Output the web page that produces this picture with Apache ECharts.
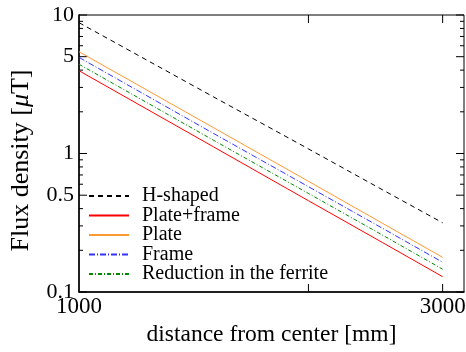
<!DOCTYPE html>
<html><head><meta charset="utf-8">
<script src="https://cdn.jsdelivr.net/npm/echarts@6/dist/echarts.min.js"></script>
<style>html,body{margin:0;padding:0;background:#fff}#c{width:466px;height:352px}</style>
</head><body><div id="c"></div>
<script>
const distances = [1000, 1500, 2000, 2500, 3000];
const hShaped = [8.8, 2.57, 1.08, 0.548, 0.316];
const plateFrame = [3.96, 1.12, 0.456, 0.228, 0.129];
const plate = [5.43, 1.54, 0.63, 0.314, 0.178];
const frame = [4.94, 1.40, 0.576, 0.289, 0.164];
const ferrite = [4.41, 1.25, 0.515, 0.258, 0.146];
const seriesNames = ['H-shaped', 'Plate+frame', 'Plate', 'Frame', 'Reduction in the ferrite'];
const yMajorTicks = [0.1, 0.5, 1, 5, 10];
const yMinorTicks = [0.2, 0.3, 0.4, 0.6, 0.7, 0.8, 0.9, 2, 3, 4, 6, 7, 8, 9];
const xTickLabels = [1000, 3000];
const xTicks = [2000, 3000];

const FONT = 'Liberation Serif';
const chart = echarts.init(document.getElementById('c'), null, {renderer: 'canvas'});
function pairs(v) { return distances.map((d, i) => [d, v[i]]); }
const styles = [
  {color: '#000000', type: [5, 4]},
  {color: '#ff0000', type: 'solid'},
  {color: '#ff9933', type: 'solid'},
  {color: '#3333ff', type: [6, 2, 1, 2]},
  {color: '#008800', type: [4, 2, 1, 2]}
];
const allData = [hShaped, plateFrame, plate, frame, ferrite];
const grid = {left: 76, right: 2, top: 15, bottom: 60, show: true, borderColor: '#000', borderWidth: 1};
chart.setOption({
  animation: false,
  grid: grid,
  xAxis: {
    type: 'log', logBase: 10, min: 1000, max: 3200,
    axisLine: {show: true, lineStyle: {color: '#000', width: 1.5}},
    axisTick: {show: false}, axisLabel: {show: false}, splitLine: {show: false},
    name: 'distance from center [mm]', nameLocation: 'middle', nameGap: 31,
    nameTextStyle: {fontFamily: FONT, fontSize: 23.5, color: '#000'}
  },
  yAxis: {
    type: 'log', logBase: 10, min: 0.1, max: 10,
    axisLine: {show: true, lineStyle: {color: '#000', width: 1.5}},
    axisTick: {show: false}, axisLabel: {show: false}, splitLine: {show: false},
    name: '{n|Flux density [}{i|μ}{n|T]}', nameLocation: 'middle', nameGap: 45,
    nameTextStyle: {padding: [0, 14, 0, 0], rich: {
      n: {fontFamily: FONT, fontSize: 26, color: '#000'},
      i: {fontFamily: FONT, fontSize: 26, color: '#000', fontStyle: 'italic'}
    }}
  },
  legend: {
    orient: 'vertical', left: 83, top: 181,
    itemWidth: 40, itemHeight: 17, itemGap: -0.5,
    data: seriesNames,
    itemStyle: {opacity: 0},
    textStyle: {fontFamily: FONT, fontSize: 20, color: '#000', lineHeight: 17, padding: [0, 0, 0, 8]}
  },
  series: seriesNames.map((n, i) => ({
    name: n, type: 'line', data: pairs(allData[i]), symbol: 'none', showSymbol: false,
    lineStyle: {color: styles[i].color, width: 1, type: styles[i].type},
    itemStyle: {color: styles[i].color}
  }))
});

function drawExtras() {
  const g = [];
  const px = v => chart.convertToPixel({xAxisIndex: 0}, v);
  const py = v => chart.convertToPixel({yAxisIndex: 0}, v);
  const x0 = px(1000), x1 = px(3200), y0 = py(0.1), y1 = py(10);
  const addLine = (a, b, c, d) => g.push({type: 'line', shape: {x1: a, y1: b, x2: c, y2: d}, style: {stroke: '#000', lineWidth: 1}, silent: true});
  yMajorTicks.forEach(v => { const y = py(v); addLine(x0, y, x0 + 8, y); addLine(x1, y, x1 - 8, y); });
  yMinorTicks.forEach(v => { const y = py(v); addLine(x0, y, x0 + 4, y); addLine(x1, y, x1 - 4, y); });
  xTicks.forEach(v => { const x = px(v); addLine(x, y0, x, y0 - 8); addLine(x, y1, x, y1 + 8); });
  yMajorTicks.forEach(v => g.push({type: 'text', x: x0 - 5, y: py(v), silent: true,
    style: {text: String(v), font: '22px "' + FONT + '"', fill: '#000', textAlign: 'right', textVerticalAlign: 'middle'}}));
  xTickLabels.forEach(v => g.push({type: 'text', x: px(v), y: y0 + 3, silent: true,
    style: {text: String(v), font: '23px "' + FONT + '"', fill: '#000', textAlign: 'center', textVerticalAlign: 'top'}}));
  chart.setOption({graphic: g});
}
drawExtras();
</script></body></html>
